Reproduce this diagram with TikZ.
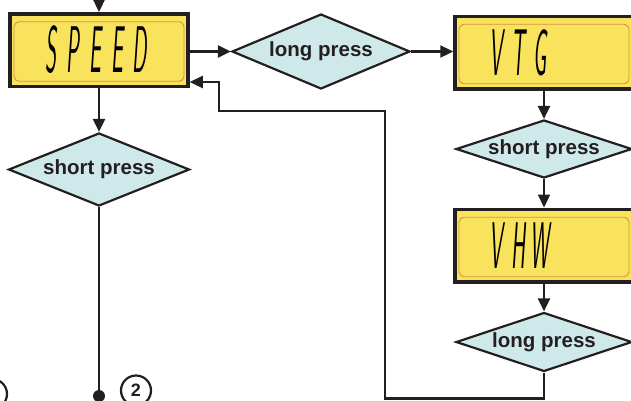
\documentclass[tikz,border=0pt]{standalone}
\usepackage{fontspec}
\setmainfont{Liberation Sans}
\usetikzlibrary{arrows.meta,shapes.geometric}
\definecolor{lcdyellow}{RGB}{249,226,92}
\definecolor{lcdedge}{RGB}{205,150,70}
\definecolor{decfill}{RGB}{207,233,234}
\definecolor{ink}{RGB}{35,31,32}
\newcommand\lcdloop[1]{\ifx#1\relax\else\makebox[46pt]{#1}\expandafter\lcdloop\fi}
\newcommand\lcdtxt[1]{\scalebox{0.48}[1.5]{\fontsize{44}{44}\selectfont\sffamily\slshape\lcdloop#1\relax}}
\begin{document}
\begin{tikzpicture}[x=1pt,y=-1pt,
  lcd/.style={rectangle, draw=ink, line width=3.5pt, fill=lcdyellow, text=black,
    minimum height=72.5pt, text width=178pt, inner xsep=0pt, inner ysep=0pt, align=left,
    path picture={\draw[lcdedge, line width=0.9pt, rounded corners=5pt]
      ([xshift=4pt,yshift=-8pt]path picture bounding box.north west) rectangle
      ([xshift=-4pt,yshift=5pt]path picture bounding box.south east);}},
  dec/.style={diamond, draw=ink, line width=2.2pt, fill=decfill, inner sep=0pt,
    font=\bfseries\fontsize{20.5}{24}\selectfont, text=ink},
  conn/.style={draw=ink, line width=2.3pt},
  arr/.style={conn, -{Triangle[length=13pt,width=12pt]}},
  circ/.style={circle, draw=ink, line width=2.2pt, minimum size=30pt, inner sep=0pt,
    font=\bfseries\fontsize{18}{18}\selectfont, text=ink}]
\useasboundingbox (0,0) rectangle (631,400);
\clip (0,0) rectangle (631,400);
\node[lcd] (speed) at (99,50) {\hspace*{30pt}\lcdtxt{SPEED}};
\node[lcd] (vtg) at (544,52.5) {\hspace*{30pt}\lcdtxt{VTG}};
\node[lcd] (vhw) at (544,245.5) {\hspace*{30pt}\lcdtxt{VHW}};
\node[dec, aspect=2.4, minimum width=178pt, minimum height=75pt] (lp1) at (321,51.5) {long press};
\node[dec, aspect=2.4, minimum width=181pt, minimum height=73pt] (sp1) at (99,169.5) {short press};
\node[dec, aspect=3, minimum width=176pt, minimum height=58pt] (sp2) at (544,149) {short press};
\node[dec, aspect=3, minimum width=176pt, minimum height=59pt] (lp2) at (544,342) {long press};
\node[circle, fill=ink, minimum size=12pt, inner sep=0pt] (dot) at (99,396) {};
\node[circ] (n2) at (136,390.5) {2};
\node[circ] (n1) at (-8,394) {};
\coordinate (top) at (99,0);
\coordinate (r1) at (385,398.5);
\coordinate (r2) at (219,111);
\coordinate (r3) at (219,82);
\draw[arr] (top) -- (speed.north);
\draw[arr] (speed.east |- lp1.west) -- (lp1.west);
\draw[arr] (lp1.east) -- (lp1.east -| vtg.west);
\draw[arr] (vtg.south) -- (sp2.north);
\draw[arr] (sp2.south) -- (vhw.north);
\draw[arr] (vhw.south) -- (lp2.north);
\draw[arr] (speed.south) -- (sp1.north);
\draw[conn] (sp1.south) -- (dot);
\draw[arr] (lp2.south) |- (r1) |- (r2) -- (r3) -- (r3 -| speed.east);
\end{tikzpicture}
\end{document}
